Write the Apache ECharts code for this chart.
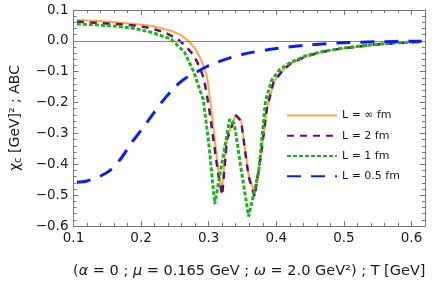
<!DOCTYPE html>
<html><head><meta charset="utf-8">
<script src="https://cdn.jsdelivr.net/npm/echarts@6/dist/echarts.min.js"></script>
<style>html,body{margin:0;padding:0;background:#fff}#c{width:436px;height:284px}</style>
</head><body><div id="c"></div>
<script>
const seriesNames = ['L = ∞ fm', 'L = 2 fm', 'L = 1 fm', 'L = 0.5 fm'];
const xTicks = [0.1, 0.2, 0.3, 0.4, 0.5, 0.6];
const yTicks = [-0.6, -0.5, -0.4, -0.3, -0.2, -0.1, 0.0, 0.1];

const tInf = [0.105,0.13,0.16,0.19,0.215,0.244,0.26,0.269,0.28,0.288,0.294,0.298,0.303,0.308,0.313,0.319,0.327,0.340,0.348,0.359,0.368,0.378,0.386,0.396,0.41,0.421,0.445,0.47,0.494,0.52,0.543,0.58,0.615];
const vInf = [0.068,0.065,0.061,0.055,0.049,0.033,0.018,0.001,-0.025,-0.058,-0.09,-0.123,-0.205,-0.30,-0.40,-0.494,-0.316,-0.239,-0.257,-0.434,-0.499,-0.36,-0.22,-0.133,-0.095,-0.074,-0.049,-0.035,-0.026,-0.019,-0.013,-0.007,-0.003];

const tTwo = [0.105,0.13,0.16,0.19,0.215,0.235,0.254,0.265,0.278,0.286,0.293,0.300,0.307,0.314,0.320,0.327,0.340,0.348,0.359,0.368,0.378,0.386,0.396,0.41,0.421,0.445,0.47,0.494,0.52,0.543,0.58,0.615];
const vTwo = [0.062,0.059,0.055,0.050,0.041,0.027,0.006,-0.015,-0.047,-0.082,-0.123,-0.209,-0.32,-0.43,-0.50,-0.32,-0.241,-0.26,-0.44,-0.505,-0.36,-0.22,-0.133,-0.095,-0.074,-0.049,-0.035,-0.026,-0.019,-0.013,-0.007,-0.003];

const tOne = [0.105,0.13,0.16,0.19,0.215,0.244,0.264,0.278,0.288,0.292,0.300,0.309,0.320,0.331,0.338,0.347,0.359,0.374,0.384,0.393,0.405,0.421,0.445,0.47,0.494,0.52,0.543,0.58,0.615];
const vOne = [0.055,0.052,0.048,0.040,0.028,0.006,-0.036,-0.101,-0.166,-0.19,-0.33,-0.529,-0.39,-0.254,-0.27,-0.402,-0.569,-0.424,-0.195,-0.128,-0.093,-0.07,-0.047,-0.034,-0.025,-0.018,-0.012,-0.006,-0.002];

const tHalf = [0.105,0.12,0.14,0.155,0.17,0.185,0.2,0.215,0.23,0.25,0.265,0.283,0.3,0.33,0.36,0.4,0.45,0.5,0.55,0.6,0.615];
const vHalf = [-0.458,-0.454,-0.438,-0.418,-0.382,-0.333,-0.290,-0.245,-0.200,-0.150,-0.122,-0.100,-0.080,-0.056,-0.039,-0.025,-0.013,-0.006,-0.003,-0.001,-0.001];

const zip = (t, v) => t.map((x, i) => [x, v[i]]);
const FONT = '"DejaVu Sans", "Liberation Sans", sans-serif';
const TXT = '#1a1a1a';
const FRAME = '#777';
const fmt = v => { const r = Math.round(v * 10) / 10; const s = Math.abs(r).toFixed(1); return (r < 0 ? '\u2212' : '') + s; };

const axisCommon = {
  type: 'value', interval: 0.1,
  axisLine: { show: true, onZero: false, lineStyle: { color: FRAME, width: 1 } },
  axisTick: { show: true, inside: true, length: 5, lineStyle: { color: FRAME } },
  minorTick: { show: true, splitNumber: 5, length: 3, lineStyle: { color: FRAME } },
  splitLine: { show: false }, minorSplitLine: { show: false }
};

const chart = echarts.init(document.getElementById('c'), null, { renderer: 'canvas' });
chart.setOption({
  animation: false,
  backgroundColor: '#fff',
  grid: { left: 72, right: 11, top: 10, bottom: 54, containLabel: false },
  legend: {
    orient: 'vertical', left: 286, top: 110, itemWidth: 50, itemHeight: 14, itemGap: 9, padding: 0,
    itemStyle: { color: 'rgba(0,0,0,0)', borderWidth: 0, opacity: 0 },
    textStyle: { fontFamily: FONT, fontSize: 11, color: TXT },
    data: seriesNames
  },
  xAxis: [
    Object.assign({}, axisCommon, { min: 0.1, max: 0.62, position: 'bottom',
      name: '({i|α} = 0 ; {i|μ} = 0.165 GeV ; {i|ω} = 2.0 GeV²) ; T [GeV]',
      nameLocation: 'middle', nameGap: 38,
      nameTextStyle: { fontFamily: FONT, fontSize: 14.5, color: TXT,
        rich: { i: { fontFamily: FONT, fontSize: 14.5, fontStyle: 'italic', color: TXT } } },
      axisLabel: { show: true, fontFamily: FONT, fontSize: 13.5, color: TXT, margin: 5, showMaxLabel: false,
        formatter: v => (xTicks.some(t => Math.abs(t - v) < 1e-6) ? fmt(v) : '') } }),
    Object.assign({}, axisCommon, { min: 0.1, max: 0.62, position: 'top', axisLabel: { show: false } })
  ],
  yAxis: [
    Object.assign({}, axisCommon, { min: -0.6, max: 0.1, position: 'left',
      name: 'χ{s|c} [GeV]² ; ABC', nameLocation: 'middle', nameRotate: 90, nameGap: 50,
      nameTextStyle: { fontFamily: FONT, fontSize: 14, color: TXT,
        rich: { s: { fontFamily: FONT, fontSize: 10, color: TXT, padding: [7, 0, 0, 0] } } },
      axisLabel: { show: true, fontFamily: FONT, fontSize: 13.5, color: TXT, margin: 5,
        formatter: v => (yTicks.some(t => Math.abs(t - v) < 1e-6) ? fmt(v) : '') } }),
    Object.assign({}, axisCommon, { min: -0.6, max: 0.1, position: 'right', axisLabel: { show: false } })
  ],
  series: [
    { name: seriesNames[0], type: 'line', data: zip(tInf, vInf), showSymbol: false, symbol: 'none',
      color: '#FFA54F', lineStyle: { color: '#FFA54F', width: 2 }, z: 2,
      markLine: { silent: true, symbol: 'none', label: { show: false },
        lineStyle: { color: '#888', width: 1, type: 'solid' }, data: [{ yAxis: 0 }] } },
    { name: seriesNames[1], type: 'line', data: zip(tTwo, vTwo), showSymbol: false, symbol: 'none',
      color: '#5B1665', lineStyle: { color: '#5B1665', width: 2.5, type: [7, 6] }, z: 3 },
    { name: seriesNames[2], type: 'line', data: zip(tOne, vOne), showSymbol: false, symbol: 'none',
      color: '#22B022', lineStyle: { color: '#22B022', width: 3, type: [4, 2] }, z: 4 },
    { name: seriesNames[3], type: 'line', data: zip(tHalf, vHalf), showSymbol: false, symbol: 'none', smooth: 0.3,
      color: '#0A1EF5', lineStyle: { color: '#0A1EF5', width: 3, type: [14, 10] }, z: 5 }
  ]
});
</script></body></html>
